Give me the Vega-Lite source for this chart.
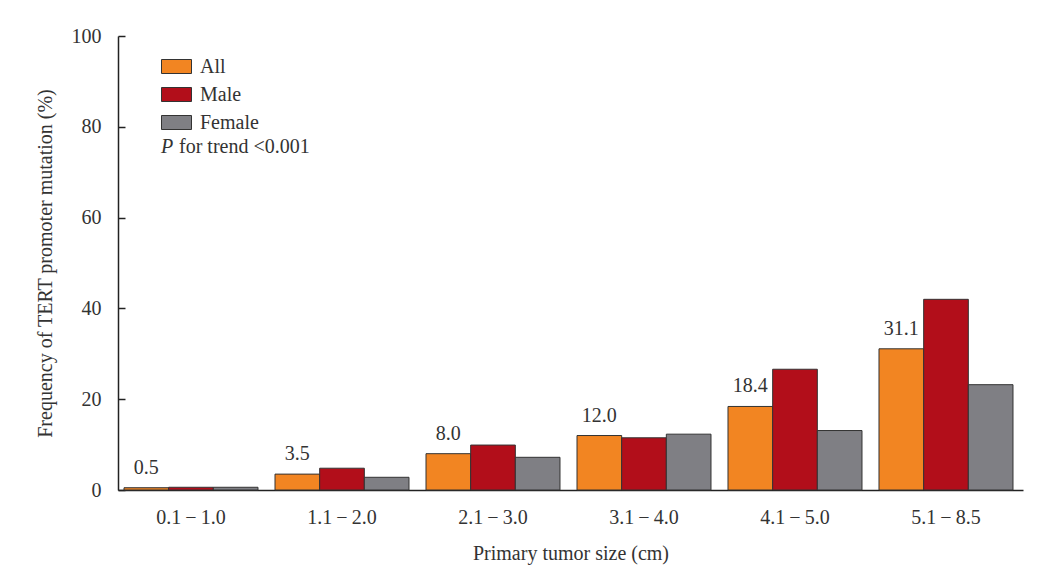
{
  "$schema": "https://vega.github.io/schema/vega-lite/v6.json",
  "width": 905,
  "height": 454,
  "autosize": {"type": "none"},
  "padding": {"left": 118, "top": 36, "right": 38, "bottom": 95},
  "background": "white",
  "config": {
    "font": "Liberation Serif",
    "view": {"stroke": null},
    "axis": {
      "labelFont": "Liberation Serif",
      "labelFontSize": 20,
      "labelColor": "#333333",
      "titleFont": "Liberation Serif",
      "titleFontSize": 20,
      "titleFontWeight": "normal",
      "titleColor": "#333333",
      "domainColor": "#222222",
      "domainWidth": 1.5,
      "tickColor": "#222222",
      "tickWidth": 1.5,
      "grid": false
    },
    "legend": {
      "labelFont": "Liberation Serif",
      "labelFontSize": 20,
      "labelColor": "#333333"
    }
  },
  "data": {
    "values": [
      {"size": "0.1\u2009\u2212\u20091.0", "group": "All", "value": 0.5},
      {"size": "0.1\u2009\u2212\u20091.0", "group": "Male", "value": 0.6},
      {"size": "0.1\u2009\u2212\u20091.0", "group": "Female", "value": 0.6},
      {"size": "1.1\u2009\u2212\u20092.0", "group": "All", "value": 3.5},
      {"size": "1.1\u2009\u2212\u20092.0", "group": "Male", "value": 4.8},
      {"size": "1.1\u2009\u2212\u20092.0", "group": "Female", "value": 2.8},
      {"size": "2.1\u2009\u2212\u20093.0", "group": "All", "value": 8.0},
      {"size": "2.1\u2009\u2212\u20093.0", "group": "Male", "value": 9.9},
      {"size": "2.1\u2009\u2212\u20093.0", "group": "Female", "value": 7.2},
      {"size": "3.1\u2009\u2212\u20094.0", "group": "All", "value": 12.0},
      {"size": "3.1\u2009\u2212\u20094.0", "group": "Male", "value": 11.5},
      {"size": "3.1\u2009\u2212\u20094.0", "group": "Female", "value": 12.3},
      {"size": "4.1\u2009\u2212\u20095.0", "group": "All", "value": 18.4},
      {"size": "4.1\u2009\u2212\u20095.0", "group": "Male", "value": 26.6},
      {"size": "4.1\u2009\u2212\u20095.0", "group": "Female", "value": 13.1},
      {"size": "5.1\u2009\u2212\u20098.5", "group": "All", "value": 31.1},
      {"size": "5.1\u2009\u2212\u20098.5", "group": "Male", "value": 42.0},
      {"size": "5.1\u2009\u2212\u20098.5", "group": "Female", "value": 23.2}
    ]
  },
  "layer": [
    {
      "mark": {"type": "bar", "stroke": "#333333", "strokeWidth": 1},
      "encoding": {
        "x": {
          "field": "size",
          "type": "nominal",
          "sort": null,
          "scale": {"paddingInner": 0.1126, "paddingOuter": 0.053, "align": 0.375},
          "axis": {
            "title": "Primary tumor size (cm)",
            "labelAngle": 0,
            "ticks": false,
            "labelPadding": 17,
            "titleY": 63,
            "titleBaseline": "middle"
          }
        },
        "xOffset": {
          "field": "group",
          "type": "nominal",
          "scale": {"domain": ["All", "Male", "Female"]}
        },
        "y": {
          "field": "value",
          "type": "quantitative",
          "scale": {"domain": [0, 100], "nice": false},
          "axis": {
            "title": "Frequency of TERT promoter mutation (%)",
            "values": [0, 20, 40, 60, 80, 100],
            "tickSize": -7,
            "labelPadding": 24,
            "titleAngle": -90,
            "titleX": -73,
            "titleY": 227,
            "titleAlign": "center",
            "titleBaseline": "middle"
          }
        },
        "color": {
          "field": "group",
          "type": "nominal",
          "scale": {"domain": ["All", "Male", "Female"], "range": ["#F28522", "#B20E1A", "#7F7F84"]},
          "legend": {
            "title": null,
            "orient": "none",
            "legendX": 48,
            "legendY": 20,
            "padding": 0,
            "symbolType": "M-1.5,-0.7H1.5V0.7H-1.5Z",
            "symbolSize": 400,
            "symbolStrokeColor": "#333333",
            "symbolStrokeWidth": 1,
            "symbolOpacity": 1,
            "labelOffset": 13,
            "rowPadding": 7
          }
        }
      }
    },
    {
      "transform": [{"filter": "datum.group === 'All'"}],
      "mark": {"type": "text", "baseline": "bottom", "dy": -10, "fontSize": 20, "color": "#333333", "font": "Liberation Serif"},
      "encoding": {
        "x": {"field": "size", "type": "nominal", "sort": null},
        "xOffset": {"field": "group", "type": "nominal"},
        "y": {"field": "value", "type": "quantitative"},
        "text": {"field": "value", "type": "quantitative", "format": ".1f"}
      }
    },
    {
      "data": {"values": [{"t": "P"}]},
      "mark": {"type": "text", "align": "left", "baseline": "alphabetic", "dx": 37, "fontSize": 20, "fontStyle": "italic", "color": "#333333", "font": "Liberation Serif"},
      "encoding": {
        "x": {"datum": "0.1\u2009\u2212\u20091.0", "bandPosition": 0},
        "y": {"datum": 74.3},
        "text": {"field": "t"}
      }
    },
    {
      "data": {"values": [{"t": "for trend <0.001"}]},
      "mark": {"type": "text", "align": "left", "baseline": "alphabetic", "dx": 55, "fontSize": 20, "color": "#333333", "font": "Liberation Serif"},
      "encoding": {
        "x": {"datum": "0.1\u2009\u2212\u20091.0", "bandPosition": 0},
        "y": {"datum": 74.3},
        "text": {"field": "t"}
      }
    }
  ]
}
